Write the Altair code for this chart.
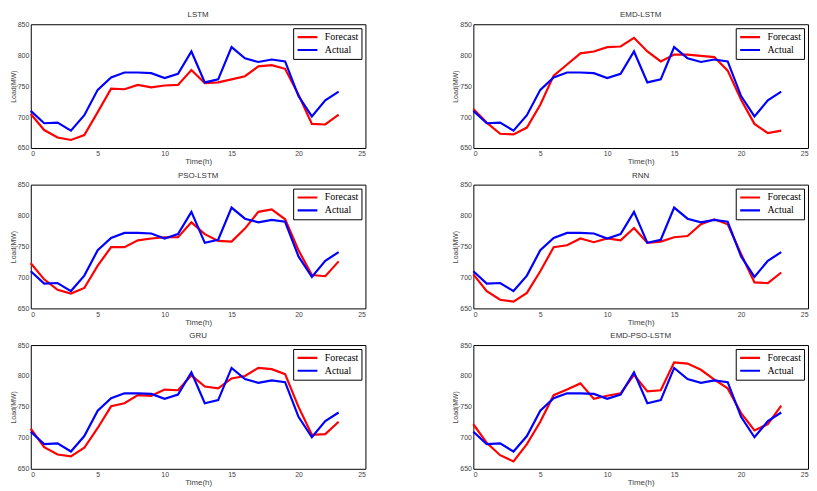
import altair as alt
import pandas as pd

hours = list(range(24))
actual = [710, 690, 691, 678, 703, 744, 764, 772, 772, 771, 763, 770,
          806, 756, 761, 813, 795, 789, 793, 790, 734, 701, 727, 741]

models = ["LSTM", "EMD-LSTM", "PSO-LSTM", "RNN", "GRU", "EMD-PSO-LSTM"]
forecast_lstm = [705, 679, 667, 663, 671, 708, 746, 745, 752, 748, 751, 752,
                 776, 755, 756, 761, 766, 782, 784, 778, 736, 689, 688, 704]
forecast_emd_lstm = [713, 691, 673, 672, 683, 720, 767, 785, 803, 806, 813, 814,
                     828, 806, 790, 801, 801, 799, 797, 775, 728, 689, 674, 678]
forecast_pso_lstm = [723, 697, 680, 674, 683, 719, 749, 749, 760, 763, 765, 765,
                     789, 770, 759, 758, 779, 806, 810, 794, 744, 704, 702, 726]
forecast_rnn = [705, 678, 664, 661, 675, 710, 749, 752, 763, 757, 763, 760,
                780, 756, 758, 765, 767, 786, 794, 786, 738, 692, 691, 708]
forecast_gru = [715, 685, 673, 670, 684, 716, 751, 756, 769, 768, 778, 777,
                801, 783, 780, 796, 800, 813, 811, 803, 750, 705, 706, 726]
forecast_emd_pso_lstm = [722, 692, 672, 662, 690, 726, 769, 778, 788, 763, 768, 772,
                         802, 775, 777, 822, 820, 810, 794, 780, 740, 712, 722, 752]

forecasts = [forecast_lstm, forecast_emd_lstm, forecast_pso_lstm,
             forecast_rnn, forecast_gru, forecast_emd_pso_lstm]

rows = []
for m, fc in zip(models, forecasts):
    for h, v in zip(hours, fc):
        rows.append({"model": m, "hour": h, "type": "Forecast", "load": v})
    for h, v in zip(hours, actual):
        rows.append({"model": m, "hour": h, "type": "Actual", "load": v})
df = pd.DataFrame(rows)

SANS = "Liberation Sans"
SERIF = "Liberation Serif"

def panel(m, h):
    return alt.Chart(df[df.model == m]).mark_line(strokeWidth=2.2).encode(
        x=alt.X("hour:Q", title="Time(h)",
                scale=alt.Scale(domain=[0, 25], nice=False),
                axis=alt.Axis(values=[0, 5, 10, 15, 20, 25], grid=False, ticks=False,
                              labelPadding=2, titlePadding=1)),
        y=alt.Y("load:Q", title="Load(MW)",
                scale=alt.Scale(domain=[650, 850], nice=False, zero=False),
                axis=alt.Axis(values=[650, 700, 750, 800, 850], grid=False, ticks=False,
                              labelPadding=2, titlePadding=1)),
        color=alt.Color("type:N",
                        scale=alt.Scale(domain=["Forecast", "Actual"], range=["#ff0000", "#0000ff"]),
                        legend=alt.Legend(title=None, orient="top-right", offset=4,
                                          strokeColor="black", fillColor="white",
                                          padding=3, symbolType="stroke", symbolSize=400,
                                          symbolStrokeWidth=2.2, labelFont=SERIF,
                                          labelFontSize=10, labelColor="black",
                                          rowPadding=1, labelOffset=6, clipHeight=12)),
        order=alt.Order("hour:Q"),
        detail="type:N",
    ).properties(
        width=338, height=h,
        title=alt.TitleParams(m, fontSize=8, font=SANS, fontWeight="normal",
                              offset=1, frame="group", color="#333333"),
    )

charts = [panel(m, 125) for m in models]

chart = alt.concat(*charts, columns=2,
                   spacing=alt.RowColnumber(row=4, column=85)).resolve_scale(
    color="independent"
).resolve_legend(color="independent").properties(
    padding=0
).configure_view(
    stroke="black", strokeWidth=1
).configure_axis(
    labelFont=SANS, labelFontSize=7, labelColor="#444444",
    titleFont=SANS, titleFontSize=8, titleFontWeight="normal", titleColor="#444444",
    domain=False,
).configure_axisY(titleFontSize=7)

chart.save("out.html", embed_options={"renderer": "svg", "actions": False})
